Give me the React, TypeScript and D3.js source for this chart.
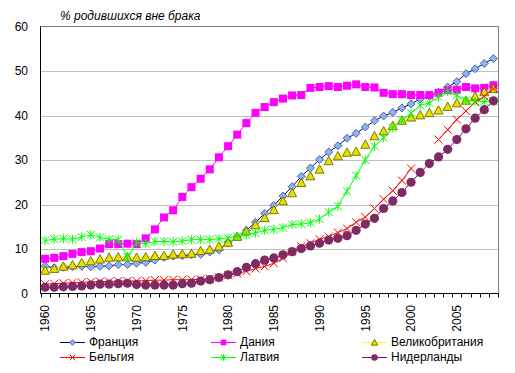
import React from 'react';
import * as d3 from 'd3';

// categories: one per year
const years = [
  1960, 1961, 1962, 1963, 1964, 1965, 1966, 1967, 1968, 1969,
  1970, 1971, 1972, 1973, 1974, 1975, 1976, 1977, 1978, 1979,
  1980, 1981, 1982, 1983, 1984, 1985, 1986, 1987, 1988, 1989,
  1990, 1991, 1992, 1993, 1994, 1995, 1996, 1997, 1998, 1999,
  2000, 2001, 2002, 2003, 2004, 2005, 2006, 2007, 2008, 2009,
];

const yearLabels = ['1960', '1965', '1970', '1975', '1980', '1985', '1990', '1995', '2000', '2005'];
const yTicks = [0, 10, 20, 30, 40, 50, 60];

// % of births outside marriage
const france = [
  6.1, 5.8, 5.9, 6.0, 6.1, 6.0, 6.1, 6.2, 6.5, 6.5,
  6.8, 7.0, 7.5, 8.1, 8.4, 8.5, 8.7, 8.8, 9.3, 9.8,
  11.4, 12.7, 14.2, 16.0, 18.0, 19.8, 21.9, 24.0, 26.3, 28.2,
  30.1, 31.8, 33.2, 34.9, 36.0, 37.4, 38.8, 39.9, 40.7, 41.7,
  42.6, 43.7, 44.3, 45.2, 46.4, 47.6, 49.4, 50.5, 51.7, 52.8,
];
const denmark = [
  7.8, 8.0, 8.4, 8.9, 9.3, 9.5, 10.1, 11.1, 11.1, 11.2,
  11.1, 12.4, 14.4, 17.1, 18.7, 21.7, 23.9, 25.8, 27.9, 30.6,
  33.1, 35.7, 38.3, 40.6, 41.9, 43.0, 43.8, 44.5, 44.6, 46.2,
  46.4, 46.6, 46.4, 46.7, 47.0, 46.4, 46.3, 45.1, 44.8, 44.8,
  44.6, 44.6, 44.6, 45.1, 45.7, 45.8, 46.4, 46.1, 46.2, 46.8,
];
const uk = [
  5.2, 5.6, 6.1, 6.4, 6.9, 7.3, 7.7, 8.1, 8.2, 8.2,
  8.1, 8.2, 8.5, 8.5, 8.8, 8.9, 9.0, 9.6, 9.9, 10.6,
  11.5, 12.8, 14.0, 15.4, 17.0, 18.8, 20.8, 22.6, 24.9, 26.4,
  27.9, 29.8, 30.9, 31.7, 31.9, 33.5, 35.4, 36.5, 37.7, 38.9,
  39.6, 40.1, 40.6, 41.2, 42.0, 42.8, 43.4, 44.3, 45.3, 46.0,
];
const belgium: (number | null)[] = [
  2.1, 2.2, 2.3, 2.4, 2.5, 2.6, 2.7, 2.7, 2.8, 2.8,
  2.8, 2.9, 3.0, 3.0, 3.1, 3.1, 3.1, 3.2, 3.3, 3.6,
  4.1, 4.5, 5.0, 5.6, 6.1, 6.8, 7.9, 9.4, 10.6, 11.3,
  12.2, 12.8, 13.7, 14.6, 16.0, 17.2, 19.1, 21.2, 23.1, 25.4,
  28.1, null, null, 34.6, 36.8, 39.1, 41.0, 43.0, 44.3, 46.0,
];
const latvia = [
  11.9, 12.2, 12.3, 12.2, 12.7, 13.2, 12.6, 12.2, 12.1, 8.2,
  11.4, 11.2, 11.7, 11.7, 11.6, 11.8, 12.1, 12.1, 12.1, 12.3,
  12.5, 12.8, 13.2, 13.6, 14.2, 14.4, 14.8, 15.5, 15.6, 15.9,
  16.7, 18.3, 19.6, 23.0, 26.5, 30.0, 33.1, 35.0, 37.2, 38.9,
  40.5, 42.3, 42.8, 44.2, 45.4, 44.5, 43.4, 43.2, 43.1, 43.2,
];
const netherlands = [
  1.4, 1.4, 1.5, 1.6, 1.7, 1.9, 2.1, 2.1, 2.2, 2.3,
  2.0, 1.9, 1.9, 1.9, 1.9, 2.2, 2.3, 2.8, 3.1, 3.6,
  4.2, 4.9, 5.9, 6.7, 7.5, 8.0, 8.7, 9.4, 10.1, 10.7,
  11.3, 12.0, 12.4, 13.0, 14.2, 15.6, 16.9, 19.1, 20.8, 22.7,
  25.0, 27.2, 29.2, 30.7, 32.4, 34.6, 37.0, 39.4, 41.3, 43.3,
];

type Shape = 'diamond' | 'square' | 'triangle' | 'cross' | 'star' | 'circle';

interface Series {
  name: string;
  values: (number | null)[];
  line: string;
  fill: string;
  stroke: string;
  shape: Shape;
}

const series: Series[] = [
  { name: 'Франция', values: france, line: '#000080', fill: '#8db4e2', stroke: '#3346b8', shape: 'diamond' },
  { name: 'Дания', values: denmark, line: '#ff00ff', fill: '#ff00ff', stroke: '#ff00ff', shape: 'square' },
  { name: 'Великобритания', values: uk, line: '#ffff00', fill: '#e8e000', stroke: '#6b6b00', shape: 'triangle' },
  { name: 'Бельгия', values: belgium, line: '#ff0000', fill: 'none', stroke: '#ff0000', shape: 'cross' },
  { name: 'Латвия', values: latvia, line: '#00ff00', fill: 'none', stroke: '#00ff00', shape: 'star' },
  { name: 'Нидерланды', values: netherlands, line: '#800080', fill: '#7f2a62', stroke: '#7f2a62', shape: 'circle' },
];

const W = 515;
const H = 373;
const font = "Arial, 'Liberation Sans', sans-serif";

function Marker({ shape, x, y, fill, stroke, small }: { shape: Shape; x: number; y: number; fill: string; stroke: string; small?: boolean }) {
  const s = small ? 0.7 : 1;
  switch (shape) {
    case 'diamond': {
      const r = 4 * s;
      return <path d={`M${x},${y - r}L${x + r},${y}L${x},${y + r}L${x - r},${y}Z`} fill={fill} stroke={stroke} strokeWidth={0.8} />;
    }
    case 'square': {
      const r = 4 * s;
      return <rect x={x - r} y={y - r} width={2 * r} height={2 * r} fill={fill} />;
    }
    case 'triangle': {
      const r = 4.5 * s;
      return <path d={`M${x},${y - r}L${x + r},${y + r * 0.85}L${x - r},${y + r * 0.85}Z`} fill={fill} stroke={stroke} strokeWidth={0.9} />;
    }
    case 'cross': {
      const r = 4 * s;
      return <path d={`M${x - r},${y - r}L${x + r},${y + r}M${x - r},${y + r}L${x + r},${y - r}`} stroke={stroke} strokeWidth={1} fill="none" />;
    }
    case 'star': {
      const r = 4 * s;
      return <path d={`M${x - r},${y - r}L${x + r},${y + r}M${x - r},${y + r}L${x + r},${y - r}M${x},${y - r - 0.5}L${x},${y + r + 0.5}`} stroke={stroke} strokeWidth={1} fill="none" />;
    }
    case 'circle':
      return <circle cx={x} cy={y} r={4.6 * s} fill={fill} />;
  }
  return null;
}

export default function App() {
  const x = d3.scaleBand<number>().domain(years).range([40.5, 498]);
  const cx = (yr: number) => (x(yr) ?? 0) + x.bandwidth() / 2;
  const y = d3.scaleLinear().domain([0, 60]).range([293.5, 26.5]);

  const legendCols = [60, 211, 362];
  const legendRows = [342, 357];

  return (
    <svg width={W} height={H} style={{ position: 'absolute', left: 0, top: 0, background: '#fff' }} fontFamily={font}>
      <rect width={W} height={H} fill="#fff" />
      {/* gridlines */}
      {yTicks.filter(t => t > 0 && t < 60).map(t => (
        <line key={t} x1={40.5} x2={498} y1={Math.round(y(t)) + 0.5} y2={Math.round(y(t)) + 0.5} stroke="#c0c0c0" />
      ))}
      {/* plot frame */}
      <line x1={40.5} x2={498.5} y1={26.5} y2={26.5} stroke="#808080" />
      <line x1={498.5} x2={498.5} y1={26.5} y2={293.5} stroke="#808080" />
      {/* axes */}
      <line x1={40.5} x2={40.5} y1={26.5} y2={293.5} stroke="#000" />
      <line x1={40.5} x2={498.5} y1={293.5} y2={293.5} stroke="#000" />
      {years.map(yr => (
        <line key={yr} x1={Math.round(x(yr) ?? 0) + 0.5} x2={Math.round(x(yr) ?? 0) + 0.5} y1={293.5} y2={297.5} stroke="#000" />
      ))}
      <line x1={498.5} x2={498.5} y1={293.5} y2={297.5} stroke="#000" />
      {yTicks.map(t => (
        <text key={t} x={28} y={y(t)} dy="0.36em" textAnchor="end" fontSize={12}>{t}</text>
      ))}
      {yearLabels.map(l => (
        <text key={l} transform={`translate(${cx(+l) + 4.3},305) rotate(-90)`} textAnchor="end" fontSize={12}>{l}</text>
      ))}
      <text x={60} y={19.5} fontSize={12} fontStyle="italic">% родившихся вне брака</text>

      {series.map(s => {
        const line = d3.line<number | null>()
          .defined(v => v != null)
          .x((_, i) => cx(years[i]))
          .y(v => y(v as number));
        return (
          <g key={s.name}>
            <path d={line(s.values) ?? ''} fill="none" stroke={s.line} strokeWidth={1} />
            {s.values.map((v, i) => v == null ? null : (
              <Marker key={i} shape={s.shape} x={cx(years[i])} y={y(v)} fill={s.fill} stroke={s.stroke} />
            ))}
          </g>
        );
      })}

      {series.map((s, i) => {
        const lx = legendCols[i % 3];
        const ly = legendRows[Math.floor(i / 3)];
        return (
          <g key={s.name}>
            <line x1={lx} x2={lx + 25} y1={ly + 0.5} y2={ly + 0.5} stroke={s.line} />
            <Marker shape={s.shape} x={lx + 12.5} y={ly + 0.5} fill={s.fill} stroke={s.stroke} small />
            <text x={lx + 29} y={ly} dy="0.36em" fontSize={12}>{s.name}</text>
          </g>
        );
      })}
    </svg>
  );
}
